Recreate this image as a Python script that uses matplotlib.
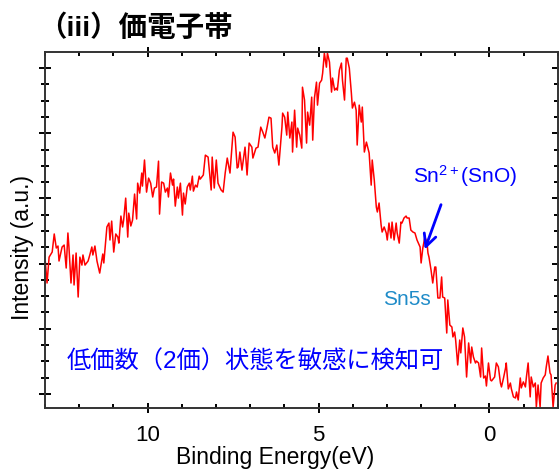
import matplotlib
matplotlib.use("Agg")
import matplotlib.pyplot as plt
from matplotlib.ticker import MultipleLocator

plt.rcParams['font.family'] = ['Liberation Sans', 'Noto Sans CJK JP', 'DejaVu Sans']
plt.rcParams['mathtext.fontset'] = 'custom'
plt.rcParams['mathtext.rm'] = 'Liberation Sans'
plt.rcParams['mathtext.it'] = 'Liberation Sans'

# Valence band spectrum, binding energy in eV
energy = [12.99, 12.94, 12.88, 12.79, 12.73, 12.67, 12.62, 12.59, 12.50, 12.44,
          12.38, 12.33, 12.30, 12.24, 12.18, 12.15, 12.09, 12.03, 11.98, 11.92,
          11.89, 11.83, 11.74, 11.69, 11.63, 11.60, 11.54, 11.48, 11.40, 11.31,
          11.28, 11.19, 11.13, 11.10, 11.05, 10.99, 10.93, 10.87, 10.84, 10.78,
          10.73, 10.70, 10.64, 10.58, 10.55, 10.49, 10.44, 10.38, 10.32, 10.29,
          10.23, 10.17, 10.15, 10.09, 10.03, 9.97, 9.91, 9.85, 9.80, 9.74,
          9.68, 9.65, 9.59, 9.53, 9.48, 9.42, 9.39, 9.33, 9.27, 9.24,
          9.19, 9.13, 9.10, 9.04, 8.98, 8.95, 8.90, 8.84, 8.78, 8.75,
          8.69, 8.66, 8.60, 8.55, 8.49, 8.46, 8.37, 8.31, 8.23, 8.14,
          8.11, 8.05, 7.99, 7.94, 7.85, 7.79, 7.73, 7.67, 7.59, 7.50,
          7.44, 7.38, 7.35, 7.30, 7.24, 7.15, 7.09, 7.03, 6.95, 6.92,
          6.83, 6.77, 6.69, 6.63, 6.57, 6.51, 6.45, 6.39, 6.34, 6.28,
          6.22, 6.16, 6.07, 6.05, 5.99, 5.93, 5.90, 5.84, 5.78, 5.76,
          5.70, 5.64, 5.61, 5.55, 5.49, 5.47, 5.41, 5.35, 5.32, 5.26,
          5.20, 5.17, 5.12, 5.06, 5.03, 4.97, 4.91, 4.88, 4.83, 4.77,
          4.74, 4.68, 4.62, 4.59, 4.53, 4.48, 4.45, 4.39, 4.33, 4.30,
          4.24, 4.19, 4.16, 4.10, 4.04, 4.01, 3.95, 3.90, 3.87, 3.81,
          3.75, 3.72, 3.66, 3.60, 3.52, 3.46, 3.43, 3.37, 3.31, 3.28,
          3.23, 3.17, 3.14, 3.08, 3.02, 2.99, 2.94, 2.88, 2.85, 2.79,
          2.73, 2.70, 2.64, 2.59, 2.56, 2.50, 2.44, 2.41, 2.35, 2.30,
          2.24, 2.18, 2.12, 2.03, 2.00, 1.95, 1.89, 1.83, 1.80, 1.77,
          1.71, 1.66, 1.60, 1.57, 1.51, 1.45, 1.40, 1.37, 1.31, 1.25,
          1.22, 1.16, 1.10, 1.07, 1.02, 0.99, 0.93, 0.87, 0.84, 0.78,
          0.73, 0.67, 0.61, 0.55, 0.52, 0.47, 0.41, 0.38, 0.32, 0.26,
          0.23, 0.17, 0.12, 0.09, 0.03, -0.03, -0.06, -0.15, -0.20, -0.26,
          -0.32, -0.35, -0.41, -0.47, -0.49, -0.55, -0.61, -0.64, -0.70, -0.76,
          -0.79, -0.84, -0.90, -0.93, -0.99, -1.05, -1.08, -1.13, -1.19, -1.22,
          -1.28, -1.34, -1.37, -1.42, -1.48, -1.51, -1.57, -1.63, -1.66, -1.71,
          -1.77, -1.80, -1.86, -1.92, -1.95]

intensity = [8.10, 6.81, 8.40, 8.71, 9.82, 8.96, 9.08, 8.16, 9.02, 9.14,
             7.73, 9.88, 9.02, 6.81, 8.53, 6.69, 8.65, 5.95, 8.40, 7.91,
             8.53, 7.91, 8.16, 8.53, 9.02, 8.53, 9.08, 8.16, 7.42, 8.59,
             8.04, 10.25, 10.49, 9.45, 10.61, 8.71, 9.82, 9.63, 9.26, 10.92,
             10.25, 10.67, 12.02, 9.63, 11.10, 10.31, 10.67, 12.27, 10.74, 12.94,
             12.33, 13.56, 12.76, 14.36, 12.39, 13.25, 12.94, 12.09, 12.64, 12.70,
             14.29, 11.04, 13.01, 12.94, 12.39, 12.64, 12.09, 13.56, 12.82, 13.19,
             11.53, 12.70, 12.02, 12.94, 10.98, 12.33, 11.66, 12.70, 12.94, 12.52,
             13.37, 12.45, 12.82, 12.70, 13.37, 13.19, 13.44, 14.66, 14.54, 12.52,
             14.54, 12.64, 14.36, 12.94, 12.52, 12.39, 13.56, 14.48, 13.56, 16.07,
             15.77, 13.87, 13.93, 14.85, 13.74, 15.15, 13.44, 15.40, 15.15, 14.48,
             15.09, 15.15, 16.38, 16.07, 15.71, 16.32, 16.99, 16.93, 15.15, 14.79,
             15.28, 14.05, 16.38, 17.24, 16.99, 15.89, 17.30, 15.71, 16.69, 14.85,
             17.42, 15.15, 16.32, 15.89, 15.09, 18.83, 18.04, 15.40, 17.30, 16.50,
             18.22, 15.58, 18.16, 19.14, 17.73, 19.08, 19.26, 19.69, 20.92, 20.06,
             20.92, 20.37, 18.53, 19.39, 18.65, 18.77, 18.65, 19.88, 20.31, 19.26,
             18.04, 20.61, 20.61, 20.00, 18.47, 17.55, 17.91, 17.42, 15.28, 17.73,
             16.69, 17.61, 14.85, 15.46, 14.79, 12.82, 14.36, 13.13, 11.47, 11.17,
             11.72, 10.37, 9.94, 10.25, 9.88, 9.45, 10.49, 9.57, 10.55, 9.45,
             10.49, 9.88, 9.26, 10.55, 10.49, 10.80, 10.92, 10.80, 10.80, 10.06,
             9.94, 9.88, 9.45, 9.02, 8.04, 8.96, 9.63, 9.33, 8.65, 8.40,
             7.61, 6.81, 7.79, 7.79, 5.89, 5.89, 7.18, 5.95, 5.89, 3.74,
             5.77, 4.23, 4.11, 3.50, 3.80, 3.31, 1.78, 3.31, 2.52, 4.05,
             3.50, 1.04, 3.13, 1.90, 2.88, 2.27, 1.90, 2.02, 1.90, 1.04,
             2.82, 0.98, 1.10, 0.49, 1.90, 0.86, 0.80, 1.04, 1.90, 1.66,
             0.67, 0.43, 0.98, 1.60, 1.90, 0.31, 0.67, 0.31, -0.18, -0.25,
             0.12, -0.37, 0.98, 0.37, 0.74, 0.43, 1.04, 1.90, -0.18, 1.04,
             0.43, 0.67, -0.80, 0.55, -0.80, 0.67, 0.98, 1.17, 1.66, 2.33,
             1.29, 1.17, -0.80, 0.55, 0.67]

x_ticks = [10, 5, 0]
x_labels = ['10', '5', '0']

fig = plt.figure(figsize=(5.59, 4.70), dpi=100)
ax = fig.add_axes([0.0805, 0.132, 0.9175, 0.757])

ax.plot(energy, intensity, color='red', lw=1.1)

ax.set_xlim(13, -2)
ax.set_ylim(-0.86, 20.98)
ax.set_xticks(x_ticks)
ax.set_xticklabels(x_labels, fontsize=16)
ax.xaxis.set_minor_locator(MultipleLocator(1))
ax.yaxis.set_major_locator(MultipleLocator(4))
ax.yaxis.set_minor_locator(MultipleLocator(1))
ax.set_yticklabels([])

for s in ax.spines.values():
    s.set_linewidth(1.4)
    s.set_color('#333333')

ax.tick_params(which='both', top=True, right=True, width=1.4, color='black')
ax.tick_params(axis='x', which='major', direction='inout', length=7, pad=9)
ax.tick_params(axis='x', which='minor', direction='in', length=3)
ax.tick_params(axis='y', which='major', direction='inout', length=9)
ax.tick_params(axis='y', which='minor', direction='inout', length=6)

ax.set_xlabel('Binding Energy(eV)', fontsize=16.5)
ax.set_ylabel('Intensity (a.u.)', fontsize=16.5)
ax.xaxis.set_label_coords(0.448, -0.108)
ax.yaxis.set_label_coords(-0.022, 0.45)

fig.text(0.068, 0.94, '（iii）価電子帯', fontsize=20.5, fontweight='bold',
         ha='left', va='center')

ax.text(0.70, 13.4, 'Sn$^{2+}$(SnO)', color='#0000ff', fontsize=15,
        ha='center', va='center')
ax.annotate('', xy=(1.92, 8.71), xytext=(1.39, 11.78),
            arrowprops=dict(arrowstyle='->', color='#0000ff', lw=2,
                            mutation_scale=22))
ax.text(2.41, 5.77, 'Sn5s', color='#1e8bc8', fontsize=15,
        ha='center', va='center')
ax.text(6.86, 1.96, '低価数（2価）状態を敏感に検知可', color='#0000ff',
        fontsize=17.5, ha='center', va='center')

fig.savefig('out.png', dpi=100)
